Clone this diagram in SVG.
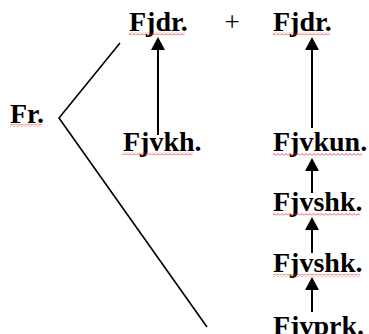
<svg xmlns="http://www.w3.org/2000/svg" width="369" height="334" viewBox="0 0 369 334">
  <style>
    .lbl { font-family: "Liberation Serif", "Times New Roman", serif; font-weight: bold; font-size: 28px; fill: #000; }
    .plus { font-family: "Liberation Serif", "Times New Roman", serif; font-size: 27px; fill: #000; }
    .edge { stroke: #000; stroke-width: 1.6; fill: none; }
    .shaft { stroke: #000; stroke-width: 2; }
    .tip { fill: #000; }
    .squig { fill: url(#wave); }
  </style>
  <defs>
    <pattern id="wave" width="4" height="3" patternUnits="userSpaceOnUse">
      <polyline points="0,2.5 2,0.5 4,2.5" fill="none" stroke="#e03030" stroke-width="0.8"/>
    </pattern>
  </defs>
  <rect width="369" height="334" fill="#fff"/>

  <!-- branch lines from Fr. and upward arrows -->
  <g id="connectors">
    <polyline class="edge" points="120,43 59,118 207,327"/>
    <line class="shaft" x1="158" y1="135" x2="158" y2="44"/>
    <path class="tip" d="M151,50 L158,37 L165,50 Z"/>
    <line class="shaft" x1="312" y1="128" x2="312" y2="44"/>
    <path class="tip" d="M305,50 L312,37 L319,50 Z"/>
    <line class="shaft" x1="312" y1="193" x2="312" y2="165"/>
    <path class="tip" d="M305,171 L312,158 L319,171 Z"/>
    <line class="shaft" x1="312" y1="253" x2="312" y2="224"/>
    <path class="tip" d="M305,230 L312,217 L319,230 Z"/>
    <line class="shaft" x1="312" y1="312" x2="312" y2="284"/>
    <path class="tip" d="M305,290 L312,277 L319,290 Z"/>
  </g>

  <g id="n-fr">
    <text class="lbl" x="10" y="123">Fr.</text>
    <rect class="squig" x="10" y="124" width="32" height="3"/>
  </g>
  <g id="n-fjdr-left">
    <text class="lbl" x="129" y="31">Fjdr.</text>
    <rect class="squig" x="129" y="32" width="56" height="3"/>
  </g>
  <g id="n-plus">
    <text class="plus" x="232" y="31" text-anchor="middle">+</text>
  </g>
  <g id="n-fjdr-right">
    <text class="lbl" x="273" y="31">Fjdr.</text>
    <rect class="squig" x="273" y="32" width="57" height="3"/>
  </g>
  <g id="n-fjvkh">
    <text class="lbl" x="123" y="151">Fjvkh.</text>
    <rect class="squig" x="122" y="152" width="71" height="3"/>
  </g>
  <g id="n-fjvkun">
    <text class="lbl" x="273" y="151">Fjvkun.</text>
    <rect class="squig" x="273" y="153" width="89" height="3"/>
  </g>
  <g id="n-fjvshk-1">
    <text class="lbl" x="273" y="211">Fjvshk.</text>
    <rect class="squig" x="273" y="213" width="87" height="3"/>
  </g>
  <g id="n-fjvshk-2">
    <text class="lbl" x="273" y="272">Fjvshk.</text>
    <rect class="squig" x="273" y="274" width="87" height="3"/>
  </g>
  <g id="n-fjvprk">
    <text class="lbl" x="273" y="335">Fjvprk.</text>
  </g>
</svg>
